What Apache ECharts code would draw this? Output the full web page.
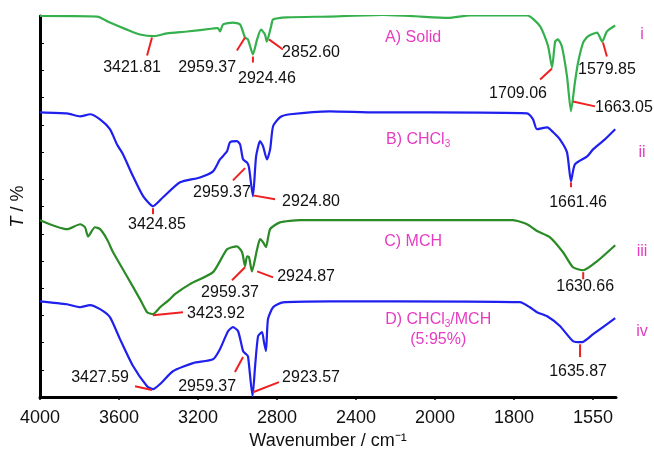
<!DOCTYPE html>
<html>
<head>
<meta charset="utf-8">
<script src="https://cdn.jsdelivr.net/npm/echarts@6/dist/echarts.min.js"></script>
<style>
  html, body { margin: 0; padding: 0; background: #fff; }
  #chart { width: 654px; height: 455px; }
</style>
</head>
<body>
<div id="chart"></div>
<script>
//== IR spectra, 4 samples: [wavenumber, T]
var tickLabels = ['4000', '3600', '3200', '2800', '2400', '2000', '1800', '1550'];

var solid = [
    [4000, 140.0], [3711, 139.8], [3646, 137.6], [3560, 135.0], [3494, 133.2], [3422, 132.6],
    [3357, 133.6], [3256, 134.3], [3124, 135.4], [3099, 135.6], [3089, 134.3], [3073, 136.9],
    [3023, 137.6], [2987, 136.9], [2962, 132.1], [2947, 131.4], [2922, 125.9], [2901, 131.4],
    [2881, 135.0], [2861, 133.2], [2852, 130.6], [2830, 136.2], [2820, 138.7], [2749, 139.5],
    [2532, 139.8], [2263, 140.4], [2100, 139.9], [1967, 139.3], [1911, 140.2], [1767, 140.2],
    [1734, 136.2], [1714, 129.0], [1704, 121.1], [1696, 130.6], [1689, 131.4], [1679, 128.8],
    [1666, 117.8], [1656, 105.0], [1646, 115.6], [1638, 122.9], [1625, 130.3], [1613, 132.5],
    [1590, 133.9], [1577, 130.6], [1565, 134.3], [1544, 136.5]
];

var chcl3 = [
    [4000, 104.6], [3863, 104.2], [3797, 103.1], [3747, 103.9], [3696, 102.0], [3646, 98.4],
    [3610, 92.8], [3580, 89.2], [3529, 81.1], [3478, 73.8], [3428, 70.1], [3377, 73.4],
    [3291, 78.9], [3190, 80.7], [3124, 82.9], [3089, 87.3], [3053, 90.3], [3038, 93.6],
    [3003, 94.0], [2987, 92.8], [2972, 87.3], [2952, 86.2], [2942, 84.4], [2922, 73.8],
    [2906, 88.4], [2886, 94.0], [2871, 92.2], [2851, 87.3], [2835, 91.0], [2820, 99.5],
    [2785, 102.8], [2734, 103.9], [2532, 105.0], [2300, 104.6], [2025, 104.6], [1767, 104.2],
    [1752, 102.0], [1742, 98.4], [1716, 99.1], [1701, 97.3], [1684, 94.7], [1666, 89.9],
    [1656, 79.3], [1646, 85.5], [1615, 88.4], [1600, 91.0], [1570, 94.7], [1544, 98.4]
];

var mch = [
    [4000, 65.0], [3863, 61.7], [3797, 63.5], [3772, 62.4], [3757, 59.0], [3722, 62.4],
    [3696, 61.7], [3661, 58.0], [3630, 53.2], [3560, 44.4], [3494, 36.0], [3458, 31.2],
    [3428, 30.5], [3392, 33.0], [3342, 36.0], [3317, 37.8], [3241, 41.5], [3124, 45.9],
    [3053, 54.3], [3003, 55.4], [2977, 53.2], [2962, 48.1], [2952, 51.7], [2942, 51.4],
    [2927, 46.2], [2901, 54.3], [2886, 58.0], [2871, 56.9], [2856, 55.1], [2835, 61.7],
    [2785, 64.2], [2684, 65.0], [2532, 65.0], [2200, 65.0], [1803, 65.0], [1767, 63.5],
    [1742, 61.0], [1709, 58.7], [1676, 53.2], [1651, 47.7], [1625, 46.6], [1590, 49.9],
    [1544, 55.8]
];

var mixed = [
    [4000, 35.2], [3863, 34.1], [3797, 33.0], [3747, 33.8], [3696, 32.3], [3646, 29.4],
    [3595, 21.3], [3529, 11.4], [3458, 4.0], [3428, 2.9], [3392, 4.8], [3327, 9.5],
    [3225, 12.5], [3124, 13.9], [3089, 17.6], [3048, 24.2], [3023, 25.7], [2997, 24.2],
    [2972, 16.9], [2957, 15.8], [2947, 15.0], [2924, 0.4], [2911, 11.4], [2896, 22.4],
    [2876, 23.9], [2866, 20.2], [2856, 16.9], [2846, 28.6], [2820, 33.0], [2770, 34.8],
    [2532, 35.2], [2200, 35.2], [1785, 34.9], [1760, 33.0], [1742, 31.2], [1716, 29.7],
    [1684, 26.1], [1651, 20.6], [1628, 20.2], [1600, 23.1], [1544, 29.0]
];

// peak label: text, leader start (wn, T), leader end (wn, T), text centre (wn, T)
var peakNotes = [
    ['3421.81', 3433, 132.1, 3458, 125.5, 3534, 121.1],
    ['2959.37', 2962, 132.1, 3003, 127.3, 3154, 121.1],
    ['2924.46', 2922, 125.1, 2922, 122.9, 2851, 117.1],
    ['2852.60', 2841, 131.4, 2770, 127.7, 2628, 126.6],
    ['1709.06', 1704, 120.7, 1734, 116.7, 1790, 111.6],
    ['1579.85', 1575, 130.3, 1565, 125.1, 1565, 120.4],
    ['1663.05', 1651, 108.6, 1595, 106.8, 1522, 106.4],
    ['3424.85', 3428, 69.4, 3428, 67.2, 3408, 63.5],
    ['2959.37', 2962, 84.1, 3023, 79.6, 3079, 75.2],
    ['2924.80', 2922, 74.1, 2810, 72.7, 2628, 71.9],
    ['1661.46', 1656, 78.9, 1656, 77.1, 1638, 71.6],
    ['3423.92', 3428, 30.1, 3276, 31.2, 3109, 30.5],
    ['2959.37', 2962, 47.7, 3028, 42.9, 3038, 38.5],
    ['2924.87', 2901, 46.2, 2820, 44.0, 2653, 44.4],
    ['1630.66', 1625, 45.9, 1625, 43.3, 1620, 40.7],
    ['3427.59', 3519, 4.0, 3433, 2.6, 3696, 7.3],
    ['2959.37', 2972, 14.7, 3013, 9.2, 3154, 4.0],
    ['2923.57', 2922, 1.8, 2790, 5.5, 2628, 7.3],
    ['1635.87', 1633, 19.4, 1633, 14.7, 1638, 9.5]
];

// sample names and roman numerals: text, centre (wn, T)
var traceLabels = [
    ['A) Solid', 2111, 132.1],
    ['B) CHCl{sub|3}', 2086, 94.7],
    ['C) MCH', 2111, 57.3],
    ['D) CHCl{sub|3}/MCH', 1992, 28.6],
    ['(5:95%)', 1992, 21.3],
    ['i', 1476, 133.2],
    ['ii', 1476, 89.9],
    ['iii', 1476, 53.6],
    ['iv', 1476, 24.2]
];

// axis is linear 4000-2000, then twice as stretched below 2000
var toU = function (wn) {
    return wn >= 2000 ? 4000 - wn : 2000 + (2000 - wn) * 2;
};
var mapPts = function (arr) {
    return arr.map(function (p) { return [toU(p[0]), p[1]]; });
};

var FONT = '"Liberation Sans", Arial, Helvetica, sans-serif';

var lineSeries = function (data, color) {
    return {
        type: 'line',
        data: mapPts(data),
        showSymbol: false,
        smooth: 0.2,
        lineStyle: { color: color, width: 2.2 },
        silent: true,
        z: 3
    };
};

var myChart = echarts.init(document.getElementById('chart'), null, { renderer: 'canvas' });
var option = {
    animation: false,
    backgroundColor: '#fff',
    grid: { left: 40, right: 38, top: 16, bottom: 57 },
    xAxis: {
        type: 'value',
        min: 0,
        max: 2916,
        interval: 400,
        splitLine: { show: false },
        axisLine: { lineStyle: { color: '#000', width: 3 } },
        axisTick: {
            customValues: [0, 400, 800, 1200, 1600, 2000, 2400, 2800],
            length: 3,
            lineStyle: { color: '#000', width: 1.5 }
        },
        axisLabel: {
            customValues: [0, 400, 800, 1200, 1600, 2000, 2400, 2800],
            formatter: function (v) { return tickLabels[Math.round(v / 400)]; },
            fontSize: 18,
            fontFamily: FONT,
            color: '#111',
            margin: 12
        },
        name: 'Wavenumber / cm\u207B\u00B9',
        nameLocation: 'middle',
        nameGap: 32,
        nameTextStyle: { fontSize: 18, fontFamily: FONT, color: '#111' }
    },
    yAxis: {
        type: 'value',
        min: 0,
        max: 140,
        interval: 10,
        splitLine: { show: false },
        axisLine: { lineStyle: { color: '#000', width: 3 } },
        axisTick: { inside: true, length: 4, lineStyle: { color: '#000', width: 1 } },
        axisLabel: { show: false },
        name: '{i|T} / %',
        nameLocation: 'middle',
        nameRotate: 90,
        nameGap: 13,
        nameTextStyle: {
            fontSize: 18, fontFamily: FONT, color: '#111',
            rich: { i: { fontSize: 18, fontFamily: FONT, fontStyle: 'italic', color: '#111' } }
        }
    },
    series: [
        lineSeries(solid, '#34b04c'),
        lineSeries(chcl3, '#2020ee'),
        lineSeries(mch, '#2a8a26'),
        lineSeries(mixed, '#2020ee'),
        {
            type: 'custom',
            silent: true,
            clip: false,
            z: 4,
            data: peakNotes.map(function (n) { return [toU(n[5]), n[6]]; }),
            renderItem: function (params, api) {
                var n = peakNotes[params.dataIndex];
                var a = api.coord([toU(n[1]), n[2]]);
                var b = api.coord([toU(n[3]), n[4]]);
                var t = api.coord([toU(n[5]), n[6]]);
                return {
                    type: 'group',
                    children: [{
                        type: 'line',
                        shape: { x1: a[0], y1: a[1], x2: b[0], y2: b[1] },
                        style: { stroke: '#ee2020', lineWidth: 2 }
                    }, {
                        type: 'text',
                        x: t[0],
                        y: t[1],
                        style: {
                            text: n[0], fill: '#111',
                            font: '16px ' + FONT,
                            align: 'center', verticalAlign: 'middle'
                        }
                    }]
                };
            }
        },
        {
            type: 'custom',
            silent: true,
            clip: false,
            z: 4,
            data: traceLabels.map(function (n) { return [toU(n[1]), n[2]]; }),
            renderItem: function (params, api) {
                var n = traceLabels[params.dataIndex];
                var t = api.coord([toU(n[1]), n[2]]);
                return {
                    type: 'text',
                    x: t[0],
                    y: t[1],
                    style: {
                        text: n[0], fill: '#e63cc2',
                        fontSize: 16, fontFamily: FONT,
                        align: 'center', verticalAlign: 'middle',
                        rich: {
                            sub: { fontSize: 10, fontFamily: FONT, fill: '#e63cc2', padding: [10, 0, 0, 0] }
                        }
                    }
                };
            }
        }
    ]
};
if (option && typeof option === "object") {
    myChart.setOption(option, true);
}
</script>
</body>
</html>
